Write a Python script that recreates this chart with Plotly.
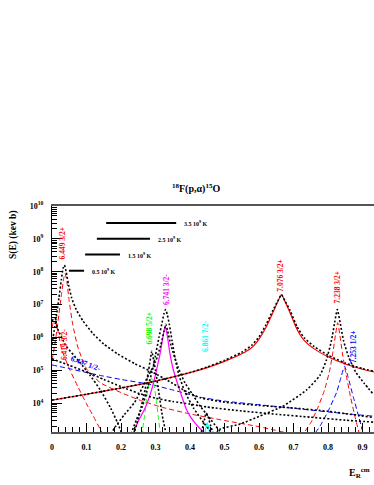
import math
import plotly.graph_objects as go

# ---------------- data ----------------
# 7.076 3/2+ broad resonance (red solid) and total (black dotted)
x_7076 = [0, 0.1, 0.2, 0.3, 0.4, 0.45, 0.5, 0.55, 0.58, 0.6, 0.62, 0.64, 0.655, 0.665,
          0.675, 0.69, 0.71, 0.73, 0.76, 0.8, 0.85, 0.9, 0.933]
s_7076 = [1.23e4, 1.86e4, 2.88e4, 4.68e4, 8.51e4, 1.20e5, 1.86e5, 3.16e5, 5.01e5, 8.91e5,
          2.0e6, 5.62e6, 1.26e7, 2.0e7, 1.26e7, 5.62e6, 1.78e6, 8.32e5, 4.47e5, 2.57e5,
          1.55e5, 1.07e5, 8.91e4]
s_7076_tot = [1.23e4, 1.86e4, 2.88e4, 4.68e4, 8.51e4, 1.26e5, 2.0e5, 3.55e5, 5.89e5, 1.05e6,
              2.40e6, 6.61e6, 1.32e7, 2.0e7, 1.32e7, 6.61e6, 2.14e6, 1.0e6, 5.25e5, 2.88e5,
              1.66e5, 1.12e5, 9.33e4]

# 6.449 3/2+ (red dashed)
x_6449 = [0.0, 0.01, 0.02, 0.028, 0.034, 0.038, 0.043, 0.05, 0.06, 0.075, 0.1, 0.14, 0.2,
          0.26, 0.32, 0.4, 0.5, 0.6, 0.7]
s_6449 = [2.0e5, 7.94e5, 5.01e6, 2.24e7, 6.31e7, 8.91e7, 5.01e7, 1.26e7, 2.51e6, 5.01e5,
          1.12e5, 4.17e4, 2.09e4, 1.17e4, 7.41e3, 4.68e3, 2.95e3, 1.91e3, 1.12e3]

# 6.419 3/2- (red dashed)
x_6419 = [0.0, 0.005, 0.01, 0.015, 0.028, 0.05, 0.075, 0.1, 0.12, 0.14, 0.155]
s_6419 = [2.0e6, 3.16e6, 3.16e6, 2.0e6, 4.37e5, 1.12e5, 3.16e4, 9.55e3, 3.98e3, 1.58e3, 7.94e2]

# 6.437 1/2- (blue dashed)
x_6437 = [0, 0.05, 0.1, 0.15, 0.2, 0.28, 0.35, 0.43, 0.5, 0.6, 0.72, 0.82, 0.933]
s_6437 = [1.45e5, 1.12e5, 8.51e4, 6.61e4, 5.25e4, 3.80e4, 2.51e4, 1.51e4, 1.15e4, 8.91e3,
          6.61e3, 5.13e3, 3.98e3]

# 6.698 5/2+ (green dashed)
x_6698 = [0.26, 0.268, 0.276, 0.283, 0.289, 0.295, 0.302, 0.309, 0.316]
s_6698 = [1.0e3, 3.98e3, 2.0e4, 4.47e4, 5.62e4, 3.98e4, 1.26e4, 3.16e3, 7.94e2]

# 6.741 3/2- (magenta solid)
x_6741 = [0.23, 0.25, 0.27, 0.29, 0.305, 0.315, 0.322, 0.328, 0.335, 0.342, 0.352, 0.37,
          0.39, 0.41, 0.44, 0.46]
s_6741 = [8.91e2, 2.82e3, 7.08e3, 2.82e4, 1.26e5, 3.98e5, 1.12e6, 2.24e6, 1.0e6, 3.16e5,
          1.0e5, 2.51e4, 6.31e3, 2.82e3, 1.26e3, 7.94e2]

# 6.861 7/2- (cyan)
x_6861 = [0.44, 0.446, 0.45, 0.454, 0.46]
s_6861 = [7.94e2, 1.78e3, 2.51e3, 1.78e3, 7.94e2]

# 7.238 3/2+ (red dashed)
x_7238 = [0.72, 0.75, 0.77, 0.79, 0.805, 0.815, 0.822, 0.828, 0.834, 0.842, 0.85, 0.865,
          0.878, 0.892]
s_7238 = [8.91e2, 2.51e3, 7.08e3, 2.51e4, 1.0e5, 3.98e5, 1.26e6, 2.82e6, 1.26e6, 3.16e5,
          1.0e5, 1.58e4, 3.98e3, 1.0e3]

# 7.253 1/2+ (blue dashed)
x_7253 = [0.75, 0.777, 0.8, 0.825, 0.838, 0.848, 0.858, 0.873, 0.89, 0.905]
s_7253 = [7.94e2, 2.0e3, 5.62e3, 2.14e4, 6.31e4, 1.32e5, 6.31e4, 1.58e4, 3.55e3, 8.91e2]

# black dotted totals
x_tot_a = [0.0, 0.01, 0.02, 0.027, 0.032, 0.036, 0.041, 0.048, 0.057, 0.07, 0.09, 0.12,
           0.15, 0.19, 0.24, 0.29, 0.35, 0.39, 0.43, 0.5, 0.6, 0.7, 0.8, 0.933]
s_tot_a = [6.31e5, 2.82e6, 1.58e7, 5.62e7, 1.26e8, 1.58e8, 1.0e8, 3.98e7, 1.58e7, 7.08e6,
           3.16e6, 1.26e6, 6.31e5, 3.16e5, 1.58e5, 8.91e4, 3.98e4, 2.24e4, 1.45e4, 1.07e4,
           8.51e3, 7.08e3, 5.62e3, 3.63e3]

x_tot_b = [0.0, 0.008, 0.015, 0.04, 0.08, 0.11, 0.14, 0.17, 0.19, 0.205]
s_tot_b = [3.16e6, 3.98e6, 2.0e6, 5.62e5, 1.78e5, 7.08e4, 2.51e4, 7.08e3, 2.51e3, 1.0e3]

x_tot_c = [0.0, 0.05, 0.1, 0.15, 0.2, 0.25, 0.3, 0.35, 0.4, 0.45, 0.55, 0.65, 0.75, 0.85, 0.933]
s_tot_c = [2.24e5, 1.41e5, 8.91e4, 5.25e4, 3.16e4, 2.0e4, 1.41e4, 1.12e4, 9.33e3, 7.59e3,
           5.75e3, 4.57e3, 3.72e3, 3.02e3, 2.63e3]

x_tot_d = [0.225, 0.245, 0.262, 0.278, 0.29, 0.3, 0.31, 0.318, 0.324, 0.329, 0.334, 0.34,
           0.348, 0.357, 0.368, 0.385, 0.41, 0.44, 0.47]
s_tot_d = [8.91e2, 3.16e3, 7.94e3, 3.16e4, 8.91e4, 2.82e5, 1.0e6, 2.51e6, 5.01e6, 7.08e6,
           5.01e6, 2.51e6, 7.94e5, 2.24e5, 7.08e4, 2.24e4, 7.08e3, 2.51e3, 1.0e3]

x_tot_e = [0.165, 0.183, 0.21, 0.24, 0.274, 0.3, 0.315, 0.325, 0.33, 0.335, 0.345, 0.365,
           0.385, 0.405, 0.43, 0.46, 0.49]
s_tot_e = [8.91e2, 1.86e3, 4.47e3, 1.07e4, 5.37e4, 1.78e5, 5.62e5, 1.58e6, 2.51e6, 1.58e6,
           5.62e5, 1.26e5, 4.17e4, 2.0e4, 7.94e3, 3.16e3, 1.26e3]

x_tot_f = [0.24, 0.255, 0.27, 0.28, 0.286, 0.289, 0.293, 0.3, 0.31, 0.32, 0.33]
s_tot_f = [1.41e3, 5.37e3, 2.63e4, 1.0e5, 2.51e5, 3.80e5, 2.51e5, 1.0e5, 2.0e4, 3.98e3, 1.26e3]

x_tot_g = [0.47, 0.487, 0.545, 0.603, 0.67, 0.738, 0.777, 0.795, 0.81, 0.82, 0.827, 0.835,
           0.845, 0.86, 0.88, 0.905, 0.933]
s_tot_g = [1.0e3, 1.62e3, 2.29e3, 4.07e3, 8.13e3, 2.51e4, 7.08e4, 2.0e5, 7.94e5, 3.16e6,
           7.08e6, 2.82e6, 7.94e5, 2.51e5, 8.91e4, 3.98e4, 1.78e4]

x_tot_h = [0.43, 0.44, 0.447, 0.452, 0.46, 0.47]
s_tot_h = [1.0e3, 2.51e3, 5.01e3, 3.98e3, 2.0e3, 1.0e3]

# Gamow windows
temp_labels = ["3.5 10<sup>9</sup> K", "2.5 10<sup>9</sup> K", "1.5 10<sup>9</sup> K", "0.5 10<sup>9</sup> K"]
temp_e_lo = [0.157, 0.130, 0.096, 0.049]
temp_e_hi = [0.360, 0.284, 0.197, 0.093]
temp_s = [3.02e9, 1.0e9, 3.31e8, 1.07e8]

# resonance labels
res_labels = ["6.449 3/2+", "6.419 3/2-", "6.437 1/2-", "6.698 5/2+", "6.741 3/2-",
              "6.861 7/2-", "7.076 3/2+", "7.238 3/2+", "7.253 1/2+"]
res_colors = ["#ff0000", "#ff0000", "#0000ff", "#00ff00", "#ff00ff",
              "#00ffff", "#ff0000", "#ff0000", "#0000ff"]

x_tickvals = [0, 0.1, 0.2, 0.3, 0.4, 0.5, 0.6, 0.7, 0.8, 0.9]
x_ticktext = ["0", "0.1", "0.2", "0.3", "0.4", "0.5", "0.6", "0.7", "0.8", "0.9"]
y_tickvals = [1e4, 1e5, 1e6, 1e7, 1e8, 1e9, 1e10]
y_ticktext = ["10<sup>4</sup>", "10<sup>5</sup>", "10<sup>6</sup>", "10<sup>7</sup>",
              "10<sup>8</sup>", "10<sup>9</sup>", "10<sup>10</sup>"]

# ---------------- figure ----------------
FONT = "Liberation Serif"
DOT = "2px,2px"
DASH = "5px,3px"

FW, FH = 374, 485
L, R, T, B = 52, 0, 206, 485 - 432
PW, PH = FW - L - R, FH - T - B

fig = go.Figure()


def add(x, y, color, dash, width):
    fig.add_trace(go.Scatter(
        x=x, y=y, mode="lines", hoverinfo="skip", showlegend=False,
        line=dict(color=color, dash=dash, width=width, shape="spline", smoothing=0.5)))


add(x_6449, s_6449, "#ff0000", DASH, 1)
add(x_6419, s_6419, "#ff0000", DASH, 1)
add(x_6437, s_6437, "#0000ff", DASH, 1)
add(x_6698, s_6698, "#00ff00", DASH, 1)
add(x_6741, s_6741, "#ff00ff", "solid", 1.2)
add(x_6861, s_6861, "#00ffff", "solid", 1.2)
add(x_7238, s_7238, "#ff0000", DASH, 1)
add(x_7253, s_7253, "#0000ff", DASH, 1)
add(x_7076, s_7076, "#ff0000", "solid", 1.2)

for xs, ys in [(x_7076, s_7076_tot), (x_tot_a, s_tot_a), (x_tot_b, s_tot_b),
               (x_tot_c, s_tot_c), (x_tot_d, s_tot_d), (x_tot_e, s_tot_e),
               (x_tot_f, s_tot_f), (x_tot_g, s_tot_g), (x_tot_h, s_tot_h)]:
    add(xs, ys, "black", DOT, 1.6)

annotations = []
for lab, lo, hi, s in zip(temp_labels, temp_e_lo, temp_e_hi, temp_s):
    fig.add_trace(go.Scatter(x=[lo, hi], y=[s, s], mode="lines", hoverinfo="skip",
                             showlegend=False, line=dict(color="black", width=2)))
    annotations.append(dict(x=hi, y=math.log10(s), xref="x", yref="y", text="<b>" + lab + "</b>",
                            showarrow=False, xanchor="left", yanchor="middle", xshift=6,
                            font=dict(family=FONT, size=6, color="black")))

# label placement (x in MeV, y in log10 S, angle)
res_pos = [(0.031, 8.88, -90), (0.036, 5.78, -90), (0.097, 5.20, 20), (0.284, 6.30, -90),
           (0.334, 7.45, -90), (0.445, 6.03, -90), (0.664, 7.88, -90), (0.826, 7.55, -90),
           (0.872, 5.73, -90)]
for lab, col, (px, py, ang) in zip(res_labels, res_colors, res_pos):
    annotations.append(dict(x=px, y=py, xref="x", yref="y", text="<b>" + lab + "</b>",
                            showarrow=False, textangle=ang, xanchor="center", yanchor="middle",
                            font=dict(family=FONT, size=7.5, color=col)))


def paper_xy(sx, sy):
    # screen pixel -> paper coordinates
    return (sx - L) / PW, 1 - (sy - T) / PH


tx, ty = paper_xy(196, 188)
annotations.append(dict(x=tx, y=ty, xref="paper", yref="paper",
                        text="<b><sup>18</sup>F(p,\u03b1)<sup>15</sup>O</b>", showarrow=False,
                        xanchor="center", yanchor="middle",
                        font=dict(family=FONT, size=10, color="black")))
tx, ty = paper_xy(13, 235)
annotations.append(dict(x=tx, y=ty, xref="paper", yref="paper",
                        text="<b>S(E) (kev b)</b>", showarrow=False, textangle=-90,
                        xanchor="center", yanchor="middle",
                        font=dict(family=FONT, size=9.5, color="black")))
tx, ty = paper_xy(359, 473)
annotations.append(dict(x=tx, y=ty, xref="paper", yref="paper",
                        text="<b>E<sub>R</sub><sup>cm</sup></b>", showarrow=False,
                        xanchor="center", yanchor="middle",
                        font=dict(family=FONT, size=10, color="black")))

fig.update_layout(
    width=FW, height=FH,
    margin=dict(l=L, r=R, t=T, b=B, autoexpand=False),
    paper_bgcolor="white", plot_bgcolor="white",
    showlegend=False,
    annotations=annotations,
    xaxis=dict(range=[0, 0.9333], showgrid=False, zeroline=False, automargin=False,
               showline=True, linecolor="#555555", linewidth=2, mirror=True,
               ticks="inside", ticklen=9, tickcolor="black", tickwidth=1,
               tickvals=x_tickvals, ticktext=["<b>" + t + "</b>" for t in x_ticktext],
               tickfont=dict(family=FONT, size=8, color="black"), ticklabelstandoff=6,
               minor=dict(ticks="inside", ticklen=5, tickcolor="black", dtick=0.02, showgrid=False)),
    yaxis=dict(type="log", range=[3.12, 10.0], showgrid=False, zeroline=False, automargin=False,
               showline=True, linecolor="black", linewidth=1,
               ticks="inside", ticklen=10, tickcolor="black", tickwidth=1,
               tickvals=y_tickvals, ticktext=["<b>" + t + "</b>" for t in y_ticktext],
               tickfont=dict(family=FONT, size=8, color="black"), ticklabelstandoff=6,
               minor=dict(ticks="inside", ticklen=5, tickcolor="black", dtick="D1", showgrid=False)),
)

fig.write_html("out.html", config={"displayModeBar": False},
               post_script="document.body.style.margin='0';document.body.style.overflow='hidden';")
